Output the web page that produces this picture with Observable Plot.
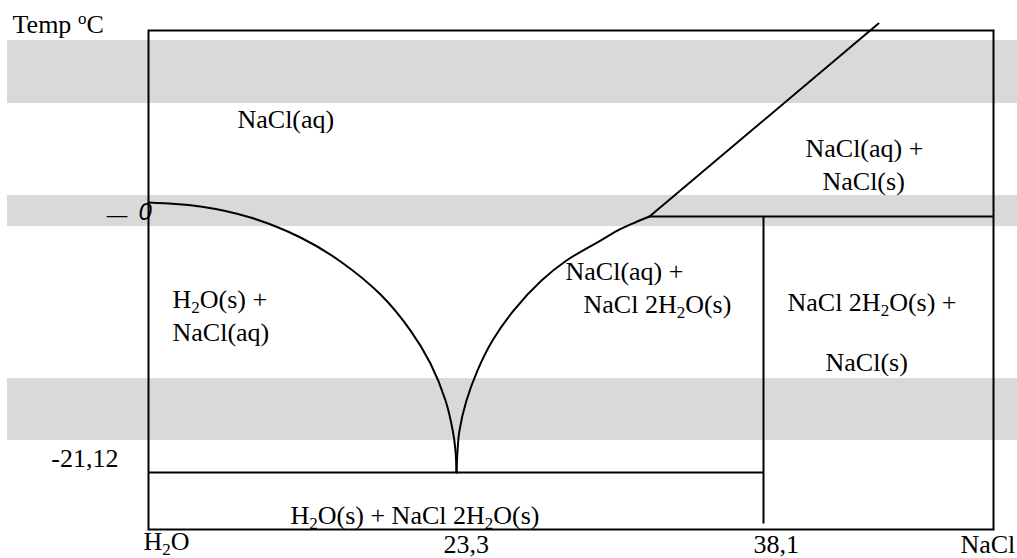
<!DOCTYPE html>
<html><head><meta charset="utf-8">
<script src="https://cdn.jsdelivr.net/npm/d3@7"></script>
<script src="https://cdn.jsdelivr.net/npm/@observablehq/plot@0.6"></script>
<style>html,body{margin:0;padding:0;background:#fff;} svg{display:block}</style>
</head><body><div id="chart"></div>
<script>
// Schematic composition axis: 0 = H2O, 100 = NaCl. Temperature axis in °C (schematic).
const eutecticX = 36.45, eutecticT = -21.12;
const peritecticX = 59.29, peritecticT = 0;
const dihydrateX = 72.78, dihydrateBottomT = -25.33;

const iceLiquidusX = [0, 6.15, 12.07, 17.99, 22.72, 27.46, 31.01, 33.37, 35.15, 35.98, 36.33, 36.45];
const iceLiquidusT = [1.16, 0.83, -0.08, -1.73, -3.71, -6.44, -9.41, -12.13, -15.18, -17.57, -19.31, -21.12];

const hydrateLiquidusX = [36.45, 36.57, 36.80, 37.63, 38.93, 40.71, 43.20, 46.51, 49.47, 53.49, 55.50, 57.28, 59.29];
const hydrateLiquidusT = [-21.12, -19.31, -17.66, -15.18, -12.71, -10.23, -7.76, -5.28, -3.63, -1.98, -1.16, -0.58, 0];

const saltLiquidusX = [59.29, 86.39];
const saltLiquidusT = [0, 15.92];

// gray shading stripes
const bandTop = [14.52, 1.73, -13.37];
const bandBottom = [9.32, -0.83, -18.48];
const bandLeft = -16.69, bandRight = 102.84;

// region labels
const regionText = ["NaCl(aq)", "NaCl(aq) +", "NaCl(s)", "H₂O(s) +", "NaCl(aq)", "NaCl(aq) +", "NaCl 2H₂O(s)", "NaCl 2H₂O(s) +", "NaCl(s)", "H₂O(s) + NaCl 2H₂O(s)"];
const regionX = [10.53, 77.75, 79.76, 2.84, 2.84, 49.35, 51.48, 75.62, 80.12, 16.80];
const regionT = [7.34, 4.95, 2.15, -7.55, -10.31, -5.20, -7.92, -7.76, -12.71, -25.33];

// axis labels
const xTickText = ["H₂O", "23,3", "38,1", "NaCl"];
const xTickX = [-0.59, 34.91, 71.60, 96.09];
const xTickT = [-27.47, -27.72, -27.72, -27.72];
const yTickText = ["-21,12"];
const yTickX = [-3.55];
const yTickT = [-20.63];
const yTitle = "Temp ºC";
const yTitleX = -16.09, yTitleT = 15.10;
const zeroMarkText = ["_", "0"];
const zeroMarkX = [-4.62, -1.18];
const zeroMarkT = [0.25, -0.25];

const serif = "'Liberation Serif', 'Times New Roman', serif";

const ice = iceLiquidusX.map((x, i) => ({x, t: iceLiquidusT[i]}));
const hydrate = hydrateLiquidusX.map((x, i) => ({x, t: hydrateLiquidusT[i]}));
const salt = saltLiquidusX.map((x, i) => ({x, t: saltLiquidusT[i]}));
const bands = bandTop.map((t1, i) => ({t1, t2: bandBottom[i], x1: bandLeft, x2: bandRight}));
const segments = [
  {x1: peritecticX, t1: peritecticT, x2: 100, t2: peritecticT},
  {x1: dihydrateX, t1: peritecticT, x2: dihydrateX, t2: dihydrateBottomT},
  {x1: 0, t1: eutecticT, x2: dihydrateX, t2: eutecticT}
];
const regions = regionText.map((text, i) => ({text, x: regionX[i], t: regionT[i]}));
const xTicks = xTickText.map((text, i) => ({text, x: xTickX[i], t: xTickT[i]}));
const yTicks = yTickText.map((text, i) => ({text, x: yTickX[i], t: yTickT[i]}));
const zeroMark = zeroMarkText.map((text, i) => ({text, x: zeroMarkX[i], t: zeroMarkT[i], size: i === 0 ? 36 : 24}));

const chart = Plot.plot({
  width: 1017,
  height: 558,
  marginLeft: 148,
  marginRight: 24,
  marginTop: 30,
  marginBottom: 29,
  style: {fontFamily: serif, fontSize: "26px", background: "#fff", color: "#000"},
  x: {domain: [0, 100], axis: null},
  y: {domain: [-25.82, 15.345], axis: null},
  marks: [
    Plot.rect(bands, {x1: "x1", x2: "x2", y1: "t1", y2: "t2", fill: "#d9d9d9"}),
    Plot.frame({stroke: "#000", strokeWidth: 2}),
    Plot.link(segments, {x1: "x1", y1: "t1", x2: "x2", y2: "t2", stroke: "#000", strokeWidth: 2}),
    Plot.line(ice, {x: "x", y: "t", curve: "catmull-rom", stroke: "#000", strokeWidth: 2}),
    Plot.line(hydrate, {x: "x", y: "t", curve: "catmull-rom", stroke: "#000", strokeWidth: 2}),
    Plot.line(salt, {x: "x", y: "t", stroke: "#000", strokeWidth: 2}),
    Plot.text(regions, {x: "x", y: "t", text: "text", textAnchor: "start", lineAnchor: "bottom", fontSize: 26, fontFamily: serif, fill: "#000"}),
    Plot.text(xTicks, {x: "x", y: "t", text: "text", textAnchor: "start", lineAnchor: "bottom", fontSize: 26, fontFamily: serif, fill: "#000"}),
    Plot.text(yTicks, {x: "x", y: "t", text: "text", textAnchor: "end", lineAnchor: "bottom", fontSize: 26, fontFamily: serif, fill: "#000"}),
    Plot.text([{text: yTitle, x: yTitleX, t: yTitleT}], {x: "x", y: "t", text: "text", textAnchor: "start", lineAnchor: "bottom", fontSize: 26, fontFamily: serif, fill: "#000"}),
    Plot.text(zeroMark, {x: "x", y: "t", text: "text", textAnchor: "start", lineAnchor: "bottom", fontSize: d => d.size, fontStyle: "italic", fontFamily: "'Liberation Sans', Arial, sans-serif", fill: "#000"})
  ]
});

// turn ₂ into a real subscript 2 and º into a superscript o
(function richify(svg) {
  const walker = document.createTreeWalker(svg, NodeFilter.SHOW_TEXT);
  const nodes = [];
  while (walker.nextNode()) nodes.push(walker.currentNode);
  for (const node of nodes) {
    const s = node.nodeValue;
    if (!/[₂º]/.test(s)) continue;
    const frag = document.createDocumentFragment();
    for (const part of s.split(/([₂º])/)) {
      if (!part) continue;
      if (part === "₂" || part === "º") {
        const t = document.createElementNS("http://www.w3.org/2000/svg", "tspan");
        t.setAttribute("font-size", "17px");
        t.setAttribute("baseline-shift", part === "₂" ? "-5px" : "9px");
        t.textContent = part === "₂" ? "2" : "o";
        frag.appendChild(t);
      } else {
        frag.appendChild(document.createTextNode(part));
      }
    }
    node.parentNode.replaceChild(frag, node);
  }
})(chart);

document.getElementById("chart").append(chart);
</script></body></html>
